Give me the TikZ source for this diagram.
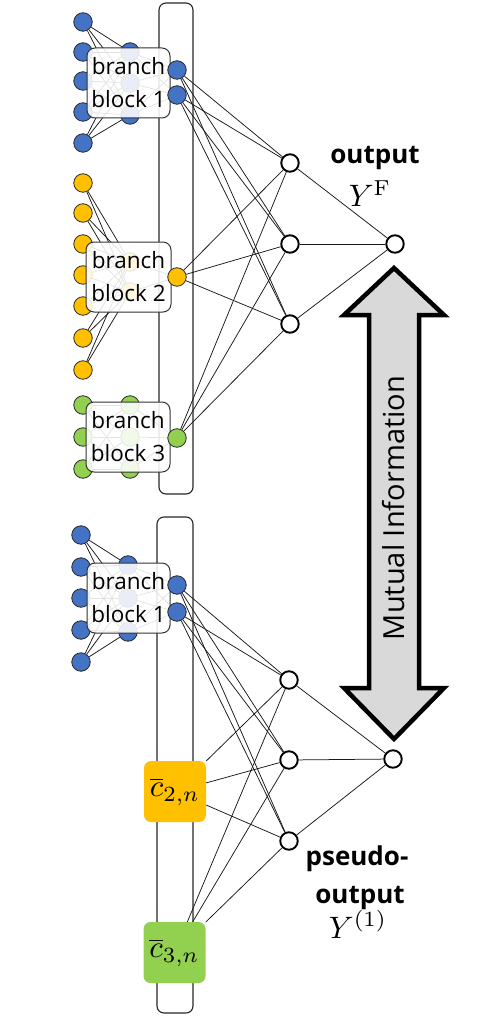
\documentclass[tikz,border=0pt]{standalone}
\usepackage{graphicx}
\usepackage[no-math]{fontspec}
\setmainfont{Open Sans}
\definecolor{cblue}{HTML}{4472C4}
\definecolor{corange}{HTML}{FFC000}
\definecolor{cgreen}{HTML}{92D050}
\definecolor{cgray}{HTML}{D9D9D9}
\pgfdeclarelayer{bars}
\pgfdeclarelayer{back}
\pgfdeclarelayer{mid}
\pgfsetlayers{bars,back,mid,main}
\newcommand{\mylargemath}[1]{\scalebox{3.1}{\fontsize{10}{12}\selectfont$#1$}}
\begin{document}
\begin{tikzpicture}[x=1pt,y=-1pt,
  neuron/.style={circle, draw=black!85, line width=0.8pt, minimum size=18.5pt, inner sep=0pt},
  hid/.style={circle, draw=black, line width=1.9pt, fill=white, minimum size=17.5pt, inner sep=0pt},
  conn/.style={draw=black!90, line width=0.75pt},
  branchbox/.style={draw=black!80, line width=1pt, rounded corners=8pt, fill=white, fill opacity=0.88, text opacity=1, minimum width=83pt, minimum height=70pt, align=center, font=\fontsize{22.5}{33}\selectfont, inner sep=0pt},
  tallbar/.style={draw=black!85, line width=1.1pt, rounded corners=7pt, inner sep=0pt},
  cbox/.style={rounded corners=7pt, minimum width=62pt, minimum height=61pt, inner sep=0pt},
  lbl/.style={font=\fontsize{26}{28}\selectfont\bfseries, inner sep=0pt, anchor=base},
  mlbl/.style={inner sep=0pt, anchor=base},
  miarrow/.style={draw=black, line width=4.5pt, line join=miter, fill=cgray}
]
\useasboundingbox (0,0) rectangle (479,1016);

% tall bars
\begin{pgfonlayer}{bars}
\node[tallbar, minimum width=34pt, minimum height=491pt] (barA) at (176,248.5) {};
\node[tallbar, minimum width=36pt, minimum height=496pt] (barB) at (175,765) {};
\end{pgfonlayer}

% ---------- top block 1 (blue)
\begin{pgfonlayer}{back}
\foreach \y [count=\i] in {22,52,81,112,143} \node[neuron, fill=cblue] (ai\i) at (83,\y) {};
\foreach \y [count=\i] in {52,83,115} \node[neuron, fill=cblue] (ah\i) at (130,\y) {};
\end{pgfonlayer}
\node[neuron, fill=cblue] (ao1) at (177,70) {};
\node[neuron, fill=cblue] (ao2) at (177,95) {};
\begin{pgfonlayer}{back}
\foreach \i in {1,...,5} \foreach \j in {1,2,3} \draw[conn] (ai\i) -- (ah\j);
\foreach \j in {1,2,3} \foreach \k in {1,2} \draw[conn] (ah\j) -- (ao\k);
\end{pgfonlayer}
\begin{pgfonlayer}{mid}
\node[branchbox] (boxA) at (128.5,83) {branch\\block 1};
\end{pgfonlayer}

% ---------- block 2 (orange)
\begin{pgfonlayer}{back}
\foreach \y [count=\i] in {183,213,244,275,306,338,370} \node[neuron, fill=corange] (bi\i) at (83,\y) {};
\foreach \y [count=\i] in {262,292} \node[neuron, fill=corange] (bh\i) at (130,\y) {};
\end{pgfonlayer}
\node[neuron, fill=corange] (bo) at (177,277) {};
\begin{pgfonlayer}{back}
\foreach \i in {1,...,7} \foreach \j in {1,2} \draw[conn] (bi\i) -- (bh\j);
\foreach \j in {1,2} \draw[conn] (bh\j) -- (bo);
\end{pgfonlayer}
\begin{pgfonlayer}{mid}
\node[branchbox, minimum width=85pt] (boxB) at (128.5,277) {branch\\block 2};
\end{pgfonlayer}

% ---------- block 3 (green)
\begin{pgfonlayer}{back}
\foreach \y [count=\i] in {405,437,469} \node[neuron, fill=cgreen] (ci\i) at (83,\y) {};
\foreach \y [count=\i] in {405,437,469} \node[neuron, fill=cgreen] (ch\i) at (130,\y) {};
\end{pgfonlayer}
\node[neuron, fill=cgreen] (co) at (177,438) {};
\begin{pgfonlayer}{back}
\foreach \i in {1,2,3} \foreach \j in {1,2,3} \draw[conn] (ci\i) -- (ch\j);
\foreach \j in {1,2,3} \draw[conn] (ch\j) -- (co);
\end{pgfonlayer}
\begin{pgfonlayer}{mid}
\node[branchbox, minimum width=84pt] (boxC) at (128,437) {branch\\block 3};
\end{pgfonlayer}

% ---------- bottom block 1 (blue)
\begin{pgfonlayer}{back}
\foreach \y [count=\i] in {535,567,598,630,662} \node[neuron, fill=cblue] (di\i) at (81,\y) {};
\foreach \y [count=\i] in {565,598,632} \node[neuron, fill=cblue] (dh\i) at (128,\y) {};
\end{pgfonlayer}
\node[neuron, fill=cblue] (do1) at (177,585) {};
\node[neuron, fill=cblue] (do2) at (177,612) {};
\begin{pgfonlayer}{back}
\foreach \i in {1,...,5} \foreach \j in {1,2,3} \draw[conn] (di\i) -- (dh\j);
\foreach \j in {1,2,3} \foreach \k in {1,2} \draw[conn] (dh\j) -- (do\k);
\end{pgfonlayer}
\begin{pgfonlayer}{mid}
\node[branchbox] (boxD) at (128.5,598) {branch\\block 1};
\end{pgfonlayer}

% c-bar boxes
\node[cbox, fill=corange] (c2) at (175,791.5) {\mylargemath{\overline{c}_{2,n}}};
\node[cbox, fill=cgreen] (c3) at (174.5,952.5) {\mylargemath{\overline{c}_{3,n}}};

% ---------- top fusion layer
\foreach \y [count=\i] in {163,244,324} \node[hid] (th\i) at (290,\y) {};
\node[hid] (tout) at (395,244) {};
\foreach \j in {1,2,3} {
  \draw[conn] (ao1) -- (th\j);
  \draw[conn] (ao2) -- (th\j);
  \draw[conn] (bo) -- (th\j);
  \draw[conn] (co) -- (th\j);
  \draw[conn] (th\j) -- (tout);
}

% ---------- bottom fusion layer
\foreach \y [count=\i] in {680,760,841} \node[hid] (uh\i) at (289,\y) {};
\node[hid] (uout) at (393,759) {};
\foreach \j in {1,2,3} {
  \draw[conn] (do1) -- (uh\j);
  \draw[conn] (do2) -- (uh\j);
  \draw[conn] (c2) -- (uh\j);
  \draw[conn] (c3) -- (uh\j);
  \draw[conn] (uh\j) -- (uout);
}

% labels
\node[lbl] (lout) at (375,164) {output};
\node[mlbl] (lyf) at (370,207) {\mylargemath{Y^{\mathrm{F}}}};
\node[lbl] (lps) at (357,865) {pseudo-};
\node[lbl] (lout2) at (360,903) {output};
\node[mlbl] (ly1) at (358,938) {\mylargemath{Y^{(1)}}};

% mutual information arrow
\draw[miarrow] (394,268) -- (444,315) -- (419,315) -- (419,688) -- (444,688) -- (394,739) -- (344,688) -- (369,688) -- (369,315) -- (344,315) -- cycle;
\node[rotate=90, font=\fontsize{29}{30}\selectfont, inner sep=0pt] (mi) at (394,508) {Mutual Information};
\end{tikzpicture}
\end{document}
